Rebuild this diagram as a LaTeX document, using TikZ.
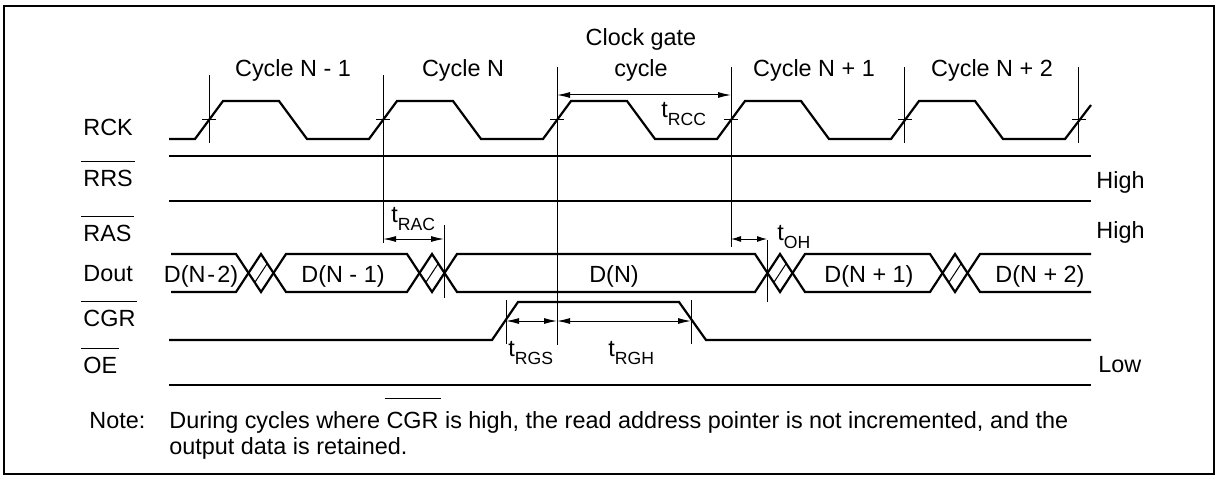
\documentclass[tikz,border=0pt]{standalone}
\usepackage{fontspec}
\setmainfont{Liberation Sans}
\usetikzlibrary{arrows.meta}

% text helpers
\newcommand{\ovl}[2][4pt]{\setbox0\hbox{#2}\kern-1pt\rlap{\rule[\dimexpr\ht0+#1\relax]{\dimexpr\wd0+2pt\relax}{0.5pt}}\kern1pt\box0\relax}
\newcommand{\tsub}[1]{t\raisebox{-4pt}{\fontsize{8.8}{8.8}\selectfont #1}}

\begin{document}
\begin{tikzpicture}[x=0.5pt,y=-0.5pt,
  sig/.style={line width=1.1pt},
  guide/.style={line width=0.5pt},
  dim/.style={line width=0.5pt,{Latex[length=6.5pt,width=3pt]}-{Latex[length=6.5pt,width=3pt]}},
  lbl/.style={font=\fontsize{11.7}{14}\selectfont,inner sep=0pt,anchor=base west},
  ctr/.style={lbl,anchor=base}]
\useasboundingbox (0,0) rectangle (1218,476);
\draw[line width=0.8pt] (4,6) rectangle (1214,474);

% signal names
\node[lbl] (rck) at (83,135) {RCK};
\node[lbl] (rrs) at (83,186) {\ovl{RRS}};
\node[lbl] (ras) at (83,241) {\ovl{RAS}};
\node[lbl] (dout) at (83,281) {Dout};
\node[lbl] (cgr) at (83,326) {\ovl{CGR}};
\node[lbl] (oe) at (83,373) {\ovl{OE}};
\node[lbl] (rrshigh) at (1096,188) {High};
\node[lbl] (rashigh) at (1096,238) {High};
\node[lbl] (oelow) at (1098,372) {Low};

% cycle names
\node[ctr] (cycm1) at (293,76) {Cycle N - 1};
\node[ctr] (cycn) at (463,76) {Cycle N};
\node[ctr,align=center,font=\fontsize{11.7}{15.5}\selectfont] (cycgate) at (641,76) {Clock gate\\cycle};
\node[ctr] (cycp1) at (814,76) {Cycle N + 1};
\node[ctr] (cycp2) at (992,76) {Cycle N + 2};

% RCK
\draw[sig] (169,139) \foreach \k in {0,...,4} { -- ({195+174*\k},139) -- ({223+174*\k},101) -- ({279+174*\k},101) -- ({307+174*\k},139) } -- (1065,139) -- (1091,105);
\foreach \k in {0,...,5}
  \draw[guide] ({202+174*\k},119) -- ({216+174*\k},119);

% RRS, RAS, OE
\draw[sig] (169,156) -- (1091,156);
\draw[sig] (169,201) -- (1091,201);
\draw[sig] (169,385) -- (1091,385);

% Dout
\draw[sig] (171,254) \foreach \xs in {236,407,755,930} { -- (\xs,254) -- ({\xs+25},292) -- ({\xs+50},254) } -- (1091,254);
\draw[sig] (171,292) \foreach \xs in {236,407,755,930} { -- (\xs,292) -- ({\xs+25},254) -- ({\xs+50},292) } -- (1091,292);
\foreach \xs in {236,407,755,930}
  \draw[guide] ({\xs+18.75},282.5) -- ({\xs+31.25},263.5);
\node[ctr] (dm2) at (201,282) {D(N\kern1pt-\kern1pt2)};
\node[ctr] (dm1) at (343,282) {D(N - 1)};
\node[ctr] (dn) at (614,282) {D(N)};
\node[ctr] (dp1) at (869,282) {D(N + 1)};
\node[ctr] (dp2) at (1040,282) {D(N + 2)};

% CGR
\draw[sig] (169,340) -- (492,340) -- (518,302) -- (679,302) -- (706,340) -- (1091,340);

% timing marks
\draw[guide] (209,75) -- (209,143);
\draw[guide] (383,75) -- (383,243);
\draw[guide] (557,67) -- (557,345);
\draw[guide] (731,67) -- (731,247);
\draw[guide] (904,67) -- (904,143);
\draw[guide] (1078,67) -- (1078,143);
\draw[guide] (444,225) -- (444,298);
\draw[guide] (767,240) -- (767,302);
\draw[guide] (506,300) -- (506,344);
\draw[guide] (691,300) -- (691,344);

\coordinate (rccA) at (557,95);
\coordinate (rccB) at (731,95);
\coordinate (racA) at (383,239);
\coordinate (racB) at (444,239);
\coordinate (ohA) at (731,239);
\coordinate (ohB) at (767,239);
\coordinate (rgsA) at (506,321);
\coordinate (rgsB) at (557,321);
\coordinate (rghB) at (691,321);
\draw[dim] (rccA) -- (rccB);
\draw[dim] (racA) -- (racB);
\draw[dim,{Latex[length=5pt,width=3pt]}-{Latex[length=5pt,width=3pt]}] (ohA) -- (ohB);
\draw[dim] (rgsA) -- (rgsB);
\draw[dim] (rgsB) -- (rghB);

\node[lbl] (trcc) at (661,118) {\tsub{RCC}};
\node[lbl] (trac) at (391,222) {\tsub{RAC}};
\node[lbl] (toh) at (777,240) {\tsub{OH}};
\node[lbl] (trgs) at (508,356) {\tsub{RGS}};
\node[lbl] (trgh) at (608,356) {\tsub{RGH}};

% note
\node[lbl] (notelbl) at (89,428) {Note:};
\node[lbl] (note1) at (169,428) {During cycles where \ovl[6.5pt]{CGR} is high, the read address pointer is not incremented, and the};
\node[lbl] (note2) at (169,454) {output data is retained.};
\end{tikzpicture}
\end{document}
